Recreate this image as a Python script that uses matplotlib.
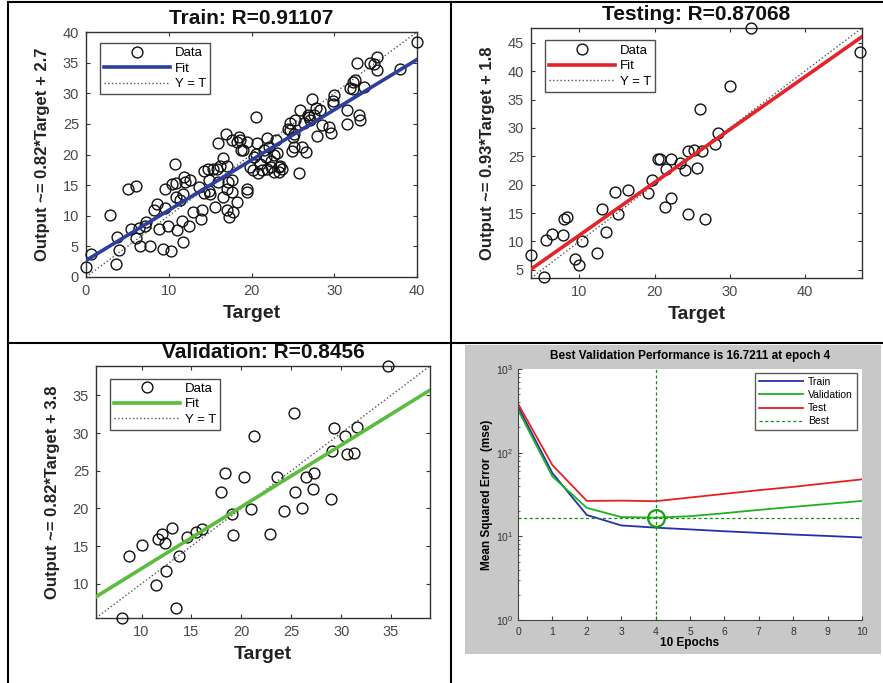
import matplotlib
matplotlib.use('Agg')
import matplotlib.pyplot as plt
import numpy as np
from matplotlib.lines import Line2D
from matplotlib.patches import Rectangle

plt.rcParams['font.family'] = ['Liberation Sans', 'DejaVu Sans']

# ---- data ----
train_t = [0, 0.56, 2.9, 3.6, 3.8, 3.95, 5.1, 6.0, 5.4, 6.0, 6.5, 6.45, 7.1, 7.7, 7.3, 8.2, 8.6, 8.8,
           9.3, 9.6, 9.6, 9.9, 10.3, 10.4, 10.7, 10.9, 10.9, 11.0, 11.6, 11.7, 11.9, 12.0, 11.7, 12.4,
           12.9, 13.6, 13.9, 14.0, 14.3, 14.8, 14.9, 15.0, 15.6, 15.9, 15.8, 16.0, 16.5, 16.9, 16.5,
           17.0, 17.0, 17.2, 17.3, 17.6, 17.7, 17.8, 18.3, 18.3, 18.5, 18.7, 19.4, 19.4, 19.5, 19.8,
           20.2, 20.5, 20.5, 20.7, 20.8, 21.0, 21.5, 21.7, 21.9, 21.9, 22.1, 22.3, 22.7, 22.7, 23.0,
           23.1, 23.3, 23.5, 24.4, 24.6, 25.0, 25.1, 24.9, 25.1, 25.3, 25.8, 25.9, 26.4, 26.6, 26.8,
           27.1, 27.3, 27.5, 27.9, 28.3, 28.5, 29.4, 29.6, 29.8, 29.9, 31.5, 31.5, 31.9, 32.3, 32.5,
           32.3, 32.7, 33.0, 33.1, 33.6, 34.3, 34.8, 35.2, 35.2, 38.0, 40.0,
           30.0, 26.1, 24.7, 27.8, 27.0, 14.2, 15.3, 18.6, 19.0, 20.3, 21.3, 22.3, 23.3, 23.7, 17.0,
           17.6, 16.2, 14.9, 12.6, 11.4]
train_o = [1.6, 3.8, 10.1, 2.2, 6.6, 4.4, 14.3, 14.8, 7.8, 6.4, 5.1, 8.05, 8.4, 5.0, 9.0, 10.9, 11.9, 7.9,
           4.6, 14.3, 11.3, 8.3, 4.2, 15.2, 18.5, 15.3, 13.1, 7.6, 9.1, 5.7, 16.3, 15.5, 13.5, 8.4,
           10.6, 14.7, 9.5, 11.0, 13.7, 17.7, 15.8, 13.6, 11.4, 21.9, 17.7, 15.5, 13.1, 23.3, 19.5,
           18.2, 11.0, 15.5, 9.8, 15.8, 22.3, 10.6, 12.2, 22.0, 22.9, 20.8, 22.0, 14.4, 13.9, 18.0,
           17.4, 26.2, 20.1, 21.8, 16.9, 18.5, 20.8, 19.6, 17.7, 22.7, 21.2, 19.0, 20.0, 17.1, 22.3,
           20.2, 18.0, 18.2, 24.2, 25.1, 22.9, 21.3, 20.6, 23.4, 25.6, 17.0, 27.2, 25.1, 20.4, 26.4,
           25.6, 29.0, 26.4, 23.1, 27.2, 24.8, 24.5, 23.5, 28.8, 28.2, 27.2, 24.9, 30.9, 31.8, 32.2,
           30.7, 34.9, 26.4, 25.6, 31.1, 34.9, 34.8, 33.8, 35.9, 34.0, 38.4,
           29.7, 21.2, 24.0, 27.6, 26.1, 17.3, 17.7, 22.3, 20.7, 19.6, 17.4, 18.0, 17.1, 17.7, 14.4,
           13.9, 18.2, 14.1, 15.8, 12.5]

test_t = [3.57, 5.3, 5.6, 6.3, 7.8, 7.9, 8.3, 9.4, 10.0, 10.3, 12.4, 13.0, 13.5, 14.8, 15.2, 16.5,
          19.1, 19.7, 20.4, 20.7, 21.4, 21.5, 22.2, 22.2, 23.4, 24.05, 24.4, 24.4, 25.3, 25.7, 26.0,
          26.3, 26.7, 28.0, 28.5, 30.0, 32.9, 47.3]
test_o = [7.7, 3.8, 10.3, 11.4, 11.1, 13.9, 14.3, 7.0, 5.9, 10.1, 8.0, 15.8, 11.7, 18.7, 14.8, 19.1,
          18.5, 20.9, 24.5, 24.5, 16.0, 22.8, 24.5, 17.7, 23.8, 22.6, 14.9, 26.0, 26.1, 23.0, 33.3,
          26.0, 14.0, 27.1, 29.1, 37.4, 47.6, 43.4]

val_t = [8.0, 8.76, 10.07, 11.44, 11.67, 12.1, 12.4, 12.44, 13.05, 13.45, 13.75, 14.6, 15.5, 16.06,
         18.0, 18.4, 19.07, 19.2, 20.3, 21.0, 21.3, 22.9, 23.6, 24.3, 25.3, 25.4, 26.06, 26.5, 27.2,
         27.3, 29.0, 29.1, 29.3, 30.35, 30.6, 31.3, 31.55, 34.7]
val_o = [5.44, 13.7, 15.1, 9.87, 15.9, 16.6, 15.4, 11.7, 17.4, 6.8, 13.7, 16.2, 16.9, 17.2,
         22.2, 24.7, 19.2, 16.4, 24.1, 19.96, 29.6, 16.6, 24.2, 19.6, 32.65, 22.2, 20.1, 24.2, 22.6,
         24.7, 21.2, 27.6, 30.7, 29.6, 27.2, 27.3, 30.75, 38.9]

epochs = np.arange(11)
perf_train = [355, 57, 18, 13.5, 12.7, 12.1, 11.5, 11.0, 10.5, 10.1, 9.7]
perf_val = [325, 52, 21.9, 17.0, 16.7211, 17.4, 18.9, 20.7, 22.5, 24.4, 26.5]
perf_test = [385, 71, 26.5, 26.7, 26.3, 29.1, 32.2, 35.6, 39.0, 43.3, 48.0]
best_epoch = 4
best_perf = 16.7211

W, H = 883, 683
fig = plt.figure(figsize=(W / 100, H / 100), dpi=100)


def px(l, t, r, b):
    # pixel box -> figure rect
    return [l / W, 1 - b / H, (r - l) / W, (b - t) / H]


def reg_panel(box, tgt, out, slope, icpt, r, name, color, ticks, leg_xy):
    ax = fig.add_axes(px(*box))
    tgt = np.array(tgt)
    out = np.array(out)
    lo = min(tgt.min(), out.min())
    hi = max(tgt.max(), out.max())
    ax.plot(tgt, out, 'o', mfc='none', mec='#111111', ms=7.8, mew=1.0, clip_on=False, label='Data', zorder=3)
    xs = np.array([lo, hi])
    ax.plot(xs, slope * xs + icpt, color=color, lw=2.6, label='Fit', zorder=4)
    ax.plot(xs, xs, ':', color='#555555', lw=1.0, label='Y = T', zorder=2)
    ax.set_xlim(lo, hi)
    ax.set_ylim(lo, hi)
    ax.set_xticks(ticks[0])
    ax.set_yticks(ticks[1])
    ax.tick_params(direction='in', top=True, right=True, labelsize=10.5, labelcolor='#4a4a4a',
                   length=3, color='#333333', pad=5)
    for s in ax.spines.values():
        s.set_color('#333333')
        s.set_linewidth(1.0)
    ax.set_title('%s: R=%s' % (name, r), fontsize=15, fontweight='bold', pad=6, color='#111111')
    ax.set_xlabel('Target', fontsize=14, fontweight='bold', color='#222222', labelpad=5)
    ax.set_ylabel('Output ~= %s*Target + %s' % (slope, icpt), fontsize=12, fontweight='bold',
                  color='#222222', labelpad=9)
    leg = ax.legend(loc='upper left', bbox_to_anchor=leg_xy, fontsize=9.5, handlelength=5.0,
                    frameon=True, fancybox=False, edgecolor='#222222', borderpad=0.3,
                    labelspacing=0.25, handletextpad=0.4, borderaxespad=0, numpoints=1)
    leg.get_frame().set_linewidth(1.0)
    return ax


reg_panel((86, 32, 417, 277), train_t, train_o, 0.82, 2.7, '0.91107', 'Train', '#2c3f9f',
          ([0, 10, 20, 30, 40], [0, 5, 10, 15, 20, 25, 30, 35, 40]), (0.042, 0.955))
reg_panel((531, 28, 862, 278), test_t, test_o, 0.93, 1.8, '0.87068', 'Testing', '#e5232a',
          ([10, 20, 30, 40], [5, 10, 15, 20, 25, 30, 35, 40, 45]), (0.042, 0.95))
reg_panel((96, 366, 430, 618), val_t, val_o, 0.82, 3.8, '0.8456', 'Validation', '#5bbd3c',
          ([10, 15, 20, 25, 30, 35], [10, 15, 20, 25, 30, 35]), (0.042, 0.95))

# performance panel with grey background
fig.add_artist(Rectangle((465 / W, 1 - 654 / H), 416 / W, 309 / H, transform=fig.transFigure,
                         facecolor='#c8c8c8', edgecolor='none', zorder=0))
ax4 = fig.add_axes(px(518, 369, 862, 620))
ax4.semilogy(epochs, perf_train, color='#2431a8', lw=1.3, label='Train')
ax4.semilogy(epochs, perf_val, color='#1fb21f', lw=1.3, label='Validation')
ax4.semilogy(epochs, perf_test, color='#e82020', lw=1.3, label='Test')
ax4.axhline(best_perf, color='#1a8a1a', ls=(0, (2.5, 2)), lw=0.9, label='Best')
ax4.axvline(best_epoch, color='#1a8a1a', ls=(0, (2.5, 2)), lw=0.9)
ax4.plot([best_epoch], [best_perf], 'o', mfc='none', mec='#14a014', ms=12, mew=1.6)
ax4.set_xlim(0, 10)
ax4.set_ylim(1, 1000)
ax4.set_xticks(epochs)
ax4.tick_params(which='both', direction='in', labelsize=7.5, labelcolor='#333333', color='#444444')
ax4.tick_params(which='major', length=3)
ax4.tick_params(which='minor', length=1.5)
ax4.tick_params(axis='x', top=False, pad=5)
for s in ax4.spines.values():
    s.set_color('#444444')
    s.set_linewidth(0.8)
ax4.spines['top'].set_visible(False)
ax4.spines['right'].set_visible(False)
ax4.set_title('Best Validation Performance is %s at epoch %d' % (best_perf, best_epoch),
              fontsize=8.5, fontweight='bold', pad=7)
ax4.set_xlabel('10 Epochs', fontsize=8.5, fontweight='bold', labelpad=0)
ax4.set_ylabel('Mean Squared Error  (mse)', fontsize=8.5, fontweight='bold', labelpad=2)
leg4 = ax4.legend(loc='upper right', bbox_to_anchor=(0.985, 0.985), fontsize=7.5, handlelength=4.2,
                  fancybox=False, edgecolor='#333333', borderpad=0.4, labelspacing=0.3,
                  handletextpad=0.5, borderaxespad=0)
leg4.get_frame().set_linewidth(1.0)

# table grid lines
lw = 1.5
for x in (8, 451):
    fig.add_artist(Line2D([x / W, x / W], [0, 1 - 2 / H], transform=fig.transFigure, color='black', lw=lw))
for y in (2, 343):
    fig.add_artist(Line2D([8 / W, 1], [1 - y / H, 1 - y / H], transform=fig.transFigure, color='black', lw=lw))

fig.savefig('out.png', dpi=100, facecolor='white')
